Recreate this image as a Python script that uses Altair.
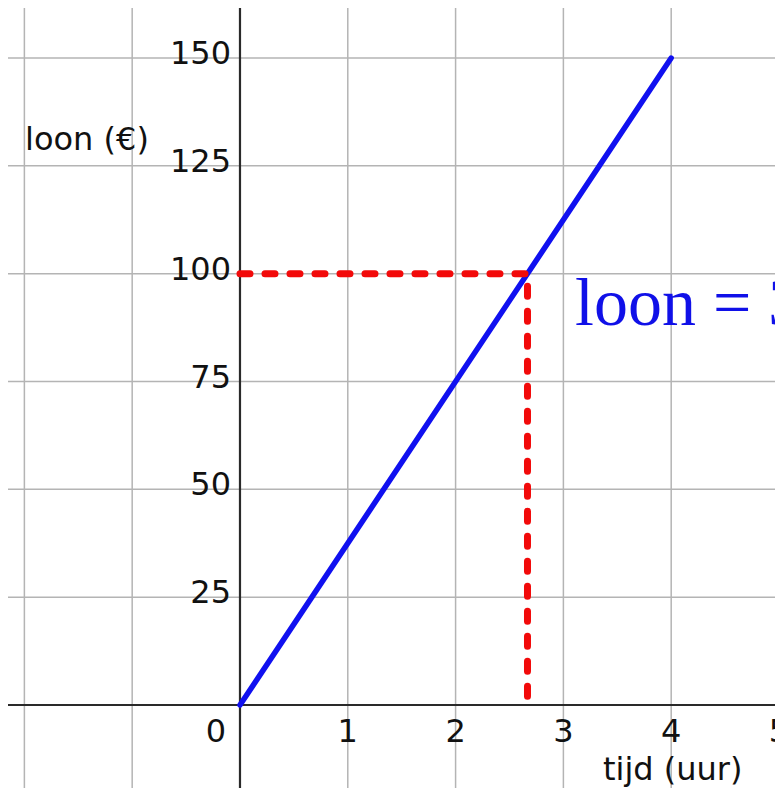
import altair as alt
import pandas as pd

# ---- data ----
x_grid = [-2, -1, 0, 1, 2, 3, 4, 5]
y_grid = [0, 25, 50, 75, 100, 125, 150]
x_tick_labels = [1, 2, 3, 4, 5]
y_tick_labels = [25, 50, 75, 100, 125, 150]
line_tijd = [0, 4]
line_loon = [0, 150]
read_tijd = [0, 2.667, 2.667]
read_loon = [100, 100, 0]
y_title = "loon (€)"
x_title = "tijd (uur)"
formula = "loon = 37,5 · tijd"

# annotation anchors (data coordinates)
y_title_at = (-1.994, 128.7)
x_title_at = (3.367, -17.4)
formula_at = (3.108, 88.1)

X_DOM = [-2.152, 4.963]
Y_DOM = [-19.24, 161.6]
xs = alt.Scale(domain=X_DOM, nice=False, zero=False)
ys = alt.Scale(domain=Y_DOM, nice=False, zero=False)

FONT = "DejaVu Sans"
FS = 32
GRID = "#b4b4b4"
AXIS = "#2a2a2a"


def X(f):
    return alt.X(f, type="quantitative", scale=xs, axis=None)


def Y(f):
    return alt.Y(f, type="quantitative", scale=ys, axis=None)


vgrid = alt.Chart(pd.DataFrame({"x": x_grid})).mark_rule(
    color=GRID, strokeWidth=1.5).encode(x=X("x"))
hgrid = alt.Chart(pd.DataFrame({"y": y_grid})).mark_rule(
    color=GRID, strokeWidth=1.5).encode(y=Y("y"))

xaxis = alt.Chart(pd.DataFrame({"y": [0]})).mark_rule(
    color=AXIS, strokeWidth=2.2).encode(y=Y("y"))
yaxis = alt.Chart(pd.DataFrame({"x": [0]})).mark_rule(
    color=AXIS, strokeWidth=2.2).encode(x=X("x"))

xlab = alt.Chart(pd.DataFrame({"x": x_tick_labels, "y": [0] * len(x_tick_labels)})).mark_text(
    font=FONT, fontSize=FS, color="#111", align="center", baseline="alphabetic", dy=37
).encode(x=X("x"), y=Y("y"), text=alt.Text("x:Q"))

zero_lab = alt.Chart(pd.DataFrame({"x": [0], "y": [0]})).mark_text(
    font=FONT, fontSize=FS, color="#111", align="right", baseline="alphabetic", dx=-14, dy=37
).encode(x=X("x"), y=Y("y"), text=alt.Text("x:Q"))

ylab = alt.Chart(pd.DataFrame({"y": y_tick_labels, "x": [0] * len(y_tick_labels)})).mark_text(
    font=FONT, fontSize=FS, color="#111", align="right", baseline="alphabetic", dx=-9, dy=6
).encode(x=X("x"), y=Y("y"), text=alt.Text("y:Q"))

ytitle = alt.Chart(pd.DataFrame({"x": [y_title_at[0]], "y": [y_title_at[1]], "t": [y_title]})).mark_text(
    font=FONT, fontSize=FS, color="#111", align="left", baseline="alphabetic"
).encode(x=X("x"), y=Y("y"), text="t:N")

xtitle = alt.Chart(pd.DataFrame({"x": [x_title_at[0]], "y": [x_title_at[1]], "t": [x_title]})).mark_text(
    font=FONT, fontSize=FS, color="#111", align="left", baseline="alphabetic"
).encode(x=X("x"), y=Y("y"), text="t:N")

blue_line = alt.Chart(pd.DataFrame({"x": line_tijd, "y": line_loon})).mark_line(
    color="#1010f0", strokeWidth=5.5, strokeCap="round"
).encode(x=X("x"), y=Y("y"))

red = alt.Chart(pd.DataFrame({"x": read_tijd, "y": read_loon, "i": list(range(len(read_tijd)))})).mark_line(
    color="#f20a0a", strokeWidth=7, strokeCap="round", strokeDash=[10, 15], strokeJoin="round"
).encode(x=X("x"), y=Y("y"), order="i:Q")

ftext = alt.Chart(pd.DataFrame({"x": [formula_at[0]], "y": [formula_at[1]], "t": [formula]})).mark_text(
    font="Liberation Serif", fontSize=68, color="#1010e8", align="left", baseline="alphabetic"
).encode(x=X("x"), y=Y("y"), text="t:N")

chart = alt.layer(
    vgrid, hgrid, xaxis, yaxis, xlab, zero_lab, ylab, ytitle, xtitle, blue_line, red, ftext
).properties(
    width=767, height=780, autosize=alt.AutoSizeParams(type="none"), padding=0,
    background="white"
).configure_view(stroke=None)

chart.save("out.html", embed_options={"renderer": "svg", "actions": False})
